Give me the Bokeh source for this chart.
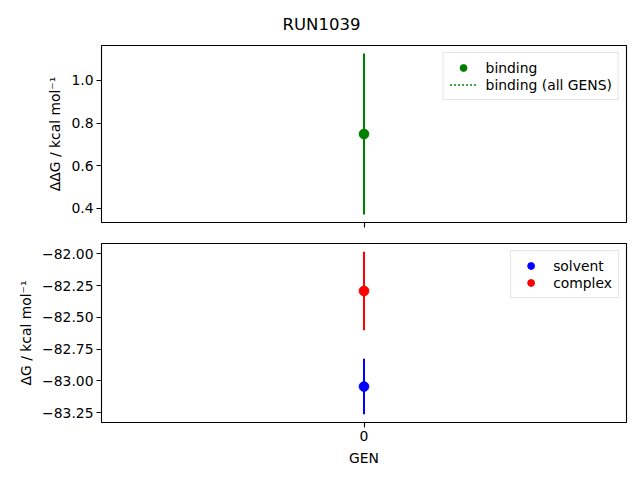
import numpy as np
from bokeh.plotting import figure
from bokeh.layouts import column
from bokeh.models import (ColumnDataSource, Range1d, FixedTicker, CustomJSTickFormatter,
                          Legend, LegendItem)
from bokeh.embed import file_html
from bokeh.resources import INLINE

# ---- data ----
title_text = "RUN1039"
gens = [0]
binding = [0.749]
binding_err = [0.377]
binding_all = [float("nan")]  # overall binding estimate (not drawn in range)
solvent = [-83.045]
solvent_err = [0.219]
complex_ = [-82.292]
complex_err = [0.310]
top_ticks = [0.4, 0.6, 0.8, 1.0]
bottom_ticks = [-83.25, -83.0, -82.75, -82.5, -82.25, -82.0]
x_ticks = [0]

FONT = "DejaVu Sans"
TICK_PX = "13.9px"

def style(p, xlabels=True):
    p.outline_line_color = "black"
    p.outline_line_width = 1.1
    p.xgrid.visible = False
    p.ygrid.visible = False
    for ax in p.axis:
        ax.axis_line_color = None
        ax.major_tick_line_color = "black"
        ax.major_tick_line_width = 1.1
        ax.major_tick_out = 5
        ax.major_tick_in = 0
        ax.minor_tick_line_color = None
        ax.major_label_text_font = FONT
        ax.major_label_text_font_size = TICK_PX
        ax.major_label_text_color = "black"
        ax.axis_label_text_font = FONT
        ax.axis_label_text_font_size = TICK_PX
        ax.axis_label_text_font_style = "normal"
        ax.axis_label_text_color = "black"
        ax.major_label_standoff = 3
    p.xaxis.ticker = FixedTicker(ticks=x_ticks)
    if not xlabels:
        p.xaxis.formatter = CustomJSTickFormatter(code="return '';")
        p.xaxis.major_label_standoff = 0

def yrange(vals, errs):
    lo = min(v - e for v, e in zip(vals, errs))
    hi = max(v + e for v, e in zip(vals, errs))
    m = 0.05 * (hi - lo)
    return lo - m, hi + m

xr = Range1d(-0.055, 0.055)

# ---- top panel ----
y0, y1 = yrange(binding, binding_err)
top = figure(width=632, height=234, x_range=xr, y_range=Range1d(y0, y1),
             output_backend="svg", toolbar_location=None,
             min_border_left=101, min_border_right=6, min_border_top=45, min_border_bottom=12)
top.title.text = title_text
top.title.align = "left"
top.title.offset = 181
top.title.standoff = 23
top.title.text_font = FONT
top.title.text_font_size = "16.5px"
top.title.text_font_style = "normal"
top.title.text_color = "black"
style(top, xlabels=False)
top.yaxis.ticker = FixedTicker(ticks=top_ticks)
top.yaxis.formatter = CustomJSTickFormatter(code="return tick.toFixed(1).replace('-', '\u2212');")
top.yaxis.axis_label = "ΔΔG / kcal mol⁻¹"

src_b = ColumnDataSource(dict(x=gens, y=binding,
                              lo=[v - e for v, e in zip(binding, binding_err)],
                              hi=[v + e for v, e in zip(binding, binding_err)]))
top.segment(x0="x", y0="lo", x1="x", y1="hi", source=src_b, line_color="#008000", line_width=2)
r_b = top.scatter(x="x", y="y", source=src_b, size=9.7, color="#008000")
src_all = ColumnDataSource(dict(x=[gens[0] for _ in binding_all], y=binding_all))
r_all = top.line(x="x", y="y", source=src_all, line_color="#008000", line_width=1.5, line_dash="2 2")

leg_top = Legend(items=[LegendItem(label="binding", renderers=[r_b]),
                        LegendItem(label="binding (all GENS)", renderers=[r_all])],
                 location="top_right")
top.add_layout(leg_top, "center")

# ---- bottom panel ----
y0, y1 = yrange(solvent + complex_, solvent_err + complex_err)
bot = figure(width=632, height=238, x_range=xr, y_range=Range1d(y0, y1),
             output_backend="svg", toolbar_location=None,
             min_border_left=101, min_border_right=6, min_border_top=9, min_border_bottom=50)
style(bot)
bot.yaxis.ticker = FixedTicker(ticks=bottom_ticks)
bot.yaxis.formatter = CustomJSTickFormatter(code="return tick.toFixed(2).replace('-', '\u2212');")
bot.yaxis.axis_label = "ΔG / kcal mol⁻¹"
bot.xaxis.axis_label = "GEN"
bot.xaxis.axis_label_standoff = 6

src_s = ColumnDataSource(dict(x=gens, y=solvent,
                              lo=[v - e for v, e in zip(solvent, solvent_err)],
                              hi=[v + e for v, e in zip(solvent, solvent_err)]))
src_c = ColumnDataSource(dict(x=gens, y=complex_,
                              lo=[v - e for v, e in zip(complex_, complex_err)],
                              hi=[v + e for v, e in zip(complex_, complex_err)]))
bot.segment(x0="x", y0="lo", x1="x", y1="hi", source=src_s, line_color="#0000ff", line_width=2)
bot.segment(x0="x", y0="lo", x1="x", y1="hi", source=src_c, line_color="#ff0000", line_width=2)
r_s = bot.scatter(x="x", y="y", source=src_s, size=9.7, color="#0000ff")
r_c = bot.scatter(x="x", y="y", source=src_c, size=9.7, color="#ff0000")
leg_bot = Legend(items=[LegendItem(label="solvent", renderers=[r_s]),
                        LegendItem(label="complex", renderers=[r_c])],
                 location="top_right")
bot.add_layout(leg_bot, "center")

for lg in (leg_top, leg_bot):
    lg.margin = 7
    lg.padding = 6
    lg.spacing = 0
    lg.label_text_font = FONT
    lg.label_text_font_size = TICK_PX
    lg.label_text_color = "black"
    lg.label_height = 17
    lg.glyph_height = 17
    lg.glyph_width = 27
    lg.label_standoff = 9
    lg.border_line_color = "#cccccc"
    lg.border_line_width = 1
    lg.background_fill_alpha = 0.8

layout = column(top, bot, spacing=0)
open("out.html", "w").write(file_html(layout, INLINE))
